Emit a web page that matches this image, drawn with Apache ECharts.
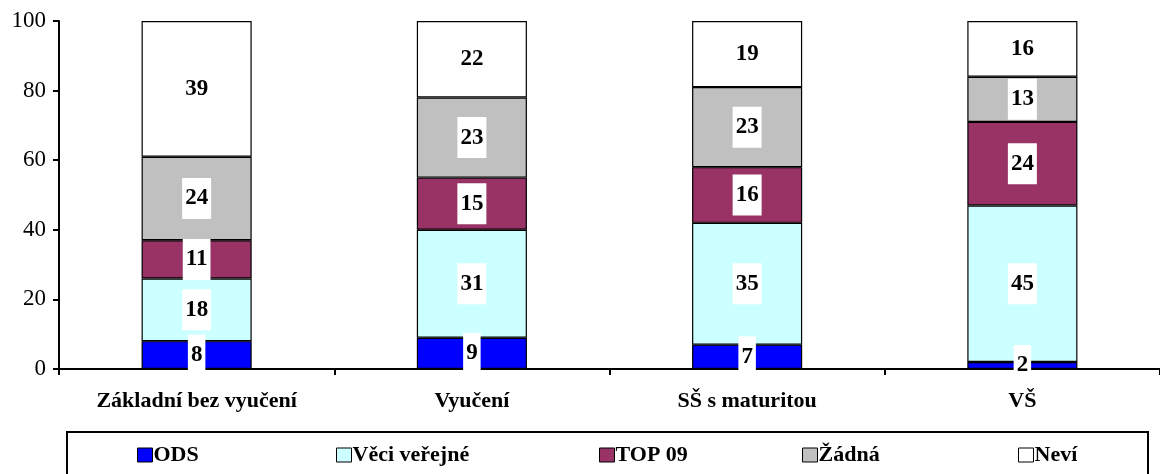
<!DOCTYPE html>
<html lang="cs">
<head>
  <meta charset="UTF-8">
  <title>Stranické preference podle vzdělání</title>
  <script src="https://cdn.jsdelivr.net/npm/echarts@6/dist/echarts.min.js"></script>
</head>
<body style="margin:0;background:#fff">
  <div id="main" style="width:1160px;height:474px;"></div>
  <script type="text/javascript">
    var myChart = echarts.init(document.getElementById('main'));

    // kategorie vzdělání
    const categories = ['Základní bez vyučení', 'Vyučení', 'SŠ s maturitou', 'VŠ'];
    // hodnoty v procentech
    const ods = [8, 9, 7, 2];
    const vv = [18, 31, 35, 45];
    const top09 = [11, 15, 16, 24];
    const zadna = [24, 23, 23, 13];
    const nevi = [39, 22, 19, 16];

    const names = ['ODS', 'Věci veřejné', 'TOP 09', 'Žádná', 'Neví'];
    const colors = ['#0000ff', '#ccffff', '#993366', '#c0c0c0', '#ffffff'];
    const values = [ods, vv, top09, zadna, nevi];
    // pozice položek legendy
    const legendLeft = [132, 331, 594, 797, 1013];

    const font = '"Liberation Serif", "Times New Roman", serif';

    const series = names.map((name, i) => ({
      name: name,
      type: 'bar',
      stack: 'all',
      barWidth: '40%',
      data: values[i],
      itemStyle: {
        color: colors[i],
        borderColor: '#000',
        borderWidth: 1.2
      },
      label: {
        show: true,
        position: 'inside',
        color: '#000',
        fontFamily: font,
        fontWeight: 'bold',
        fontSize: 23,
        lineHeight: 23,
        backgroundColor: '#fff',
        padding: [10, 3, 8, 3]
      }
    }));

    const legends = names.map((name, i) => ({
      data: [name],
      left: legendLeft[i],
      top: 439,
      icon: 'rect',
      itemWidth: 15,
      itemHeight: 14,
      itemStyle: { borderColor: '#000', borderWidth: 1 },
      textStyle: {
        fontFamily: font,
        fontWeight: 'bold',
        fontSize: 22,
        color: '#000',
        padding: [0, 0, 0, -4]
      },
      selectedMode: false
    }));

    var option = {
      animation: false,
      color: colors,
      grid: { left: 59, right: 0, top: 21, bottom: 105 },
      legend: legends,
      graphic: [{
        type: 'rect',
        shape: { x: 67, y: 432, width: 1081, height: 60 },
        style: { fill: 'none', stroke: '#000', lineWidth: 2 }
      }],
      xAxis: {
        type: 'category',
        data: categories,
        axisLine: { lineStyle: { color: '#000', width: 2 } },
        axisTick: { show: true, length: 6, inside: false, lineStyle: { color: '#000', width: 2 } },
        axisLabel: {
          color: '#000',
          fontFamily: font,
          fontWeight: 'bold',
          fontSize: 22,
          margin: 21
        }
      },
      yAxis: {
        type: 'value',
        min: 0,
        max: 100,
        interval: 20,
        axisLine: { show: true, lineStyle: { color: '#000', width: 2 } },
        axisTick: { show: true, length: 6, lineStyle: { color: '#000', width: 2 } },
        splitLine: { show: false },
        axisLabel: {
          color: '#000',
          fontFamily: font,
          fontSize: 23,
          margin: 13
        }
      },
      series: series
    };

    myChart.setOption(option);
  </script>
</body>
</html>
